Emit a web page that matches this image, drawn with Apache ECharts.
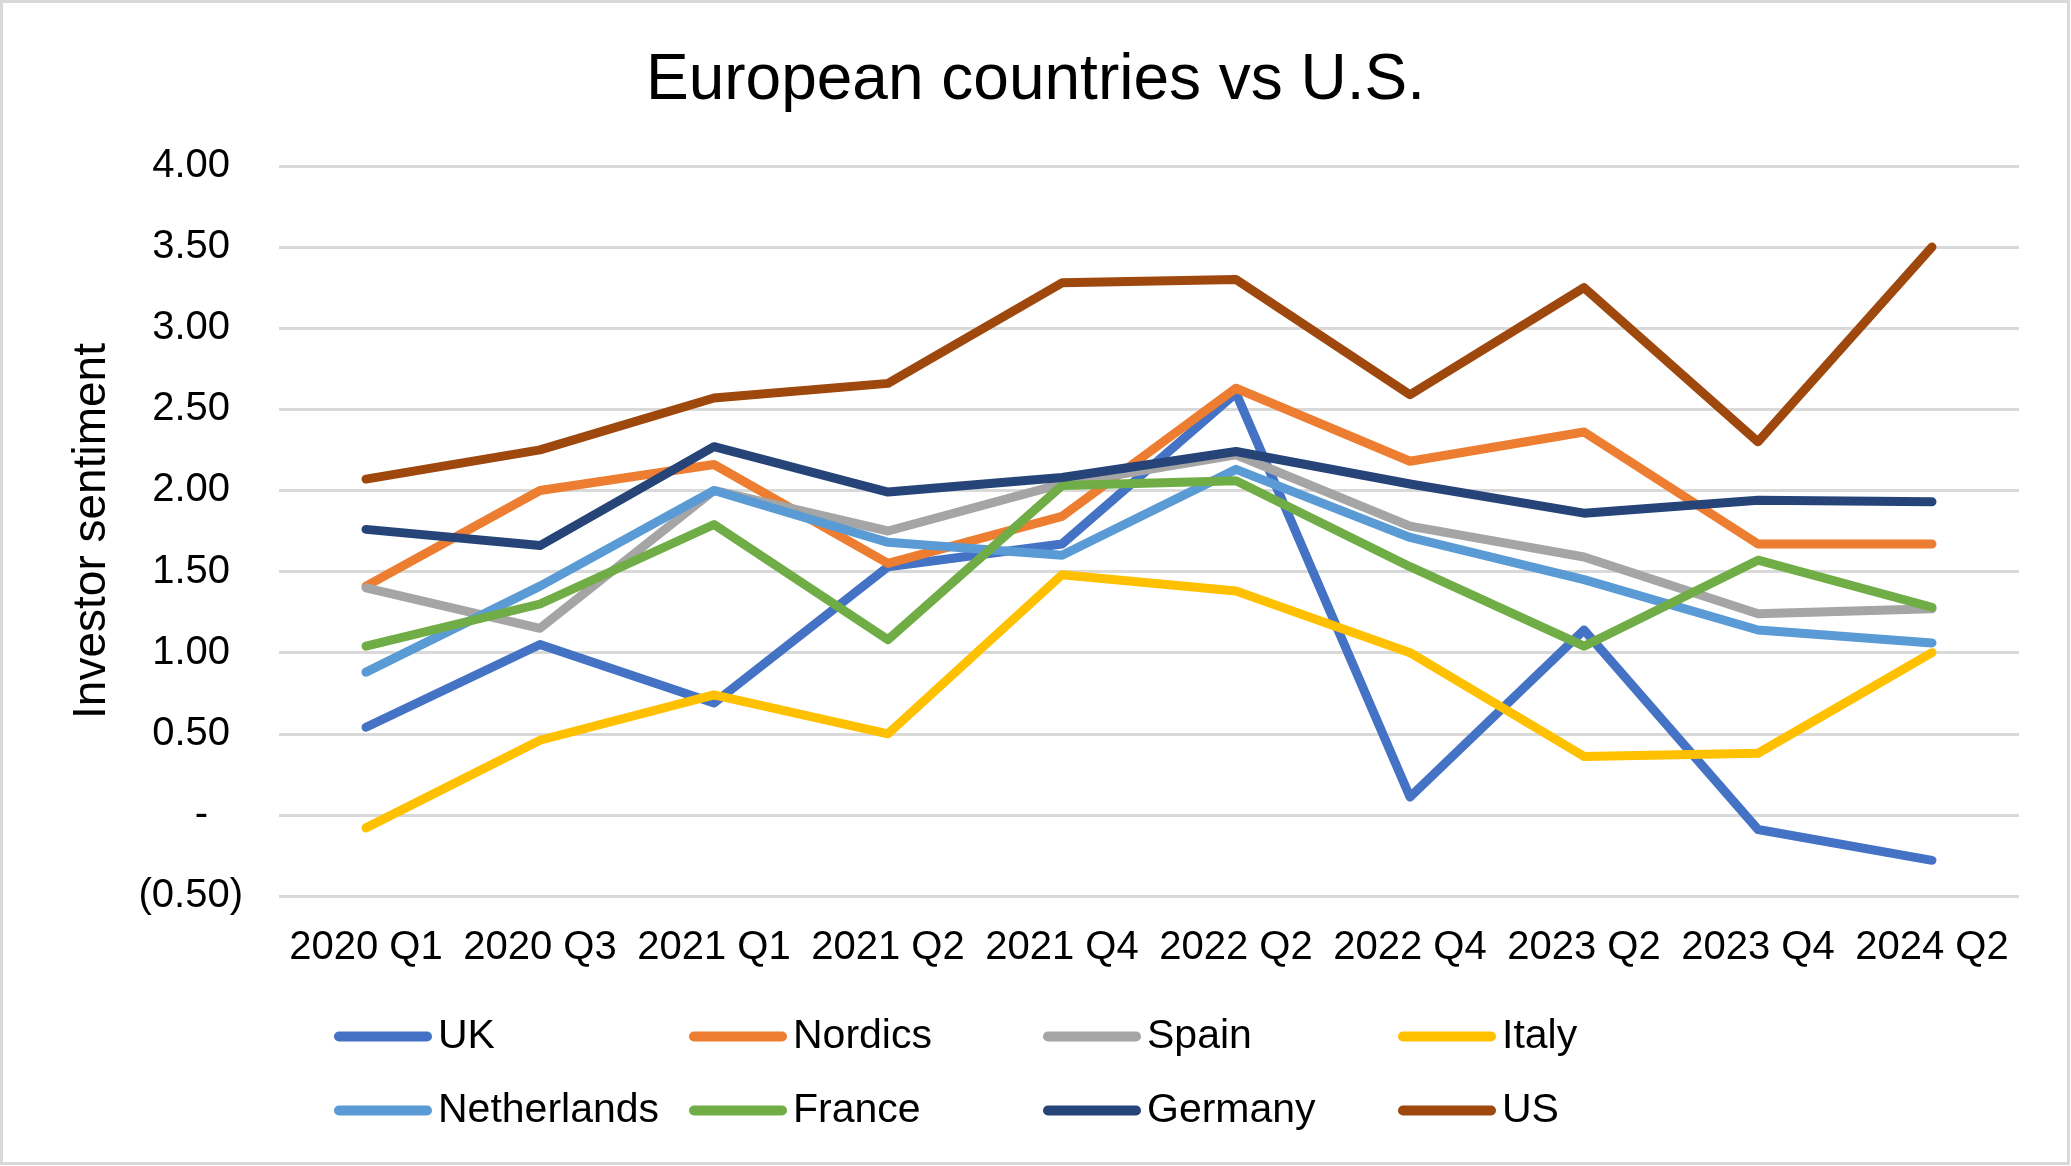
<!DOCTYPE html>
<html>
<head>
<meta charset="utf-8">
<script src="https://cdn.jsdelivr.net/npm/echarts@6/dist/echarts.min.js"></script>
<style>
html,body{margin:0;padding:0;background:#fff;}
#chart{width:2071px;height:1166px;}
</style>
</head>
<body>
<div id="chart"></div>
<script>
const categories = ['2020 Q1','2020 Q3','2021 Q1','2021 Q2','2021 Q4','2022 Q2','2022 Q4','2023 Q2','2023 Q4','2024 Q2'];
const UK          = [0.54, 1.05, 0.69, 1.53, 1.67, 2.60, 0.11, 1.14, -0.09, -0.28];
const Nordics     = [1.41, 2.00, 2.16, 1.55, 1.84, 2.63, 2.18, 2.36, 1.67, 1.67];
const Spain       = [1.40, 1.15, 2.00, 1.75, 2.04, 2.22, 1.78, 1.59, 1.24, 1.27];
const Italy       = [-0.08, 0.46, 0.74, 0.50, 1.48, 1.38, 1.00, 0.36, 0.38, 1.00];
const Netherlands = [0.88, 1.41, 2.00, 1.68, 1.60, 2.13, 1.71, 1.45, 1.14, 1.06];
const France      = [1.04, 1.30, 1.79, 1.08, 2.03, 2.06, 1.53, 1.04, 1.57, 1.28];
const Germany     = [1.76, 1.66, 2.27, 1.99, 2.08, 2.24, 2.04, 1.86, 1.94, 1.93];
const US          = [2.07, 2.25, 2.57, 2.66, 3.28, 3.30, 2.59, 3.25, 2.30, 3.50];
const seriesNames = ['UK','Nordics','Spain','Italy','Netherlands','France','Germany','US'];
const seriesData  = [UK, Nordics, Spain, Italy, Netherlands, France, Germany, US];
const colors      = ['#4472C4','#ED7D31','#A5A5A5','#FFC000','#5B9BD5','#70AD47','#264478','#9E480E'];
const yMin = -0.5, yMax = 4, yStep = 0.5;

const FONT = "'Liberation Sans', Arial, sans-serif";
const chart = echarts.init(document.getElementById('chart'));
const capsule = 'path://M5,0L93,0A5,5,0,0,1,93,10L5,10A5,5,0,0,1,5,0Z';
const legendCols = [334, 689, 1043, 1398];
const legendRows = [1016, 1090];

const legends = seriesNames.map(function (name, i) {
  return {
    data: [name],
    left: legendCols[i % 4],
    top: legendRows[Math.floor(i / 4)],
    orient: 'horizontal',
    icon: capsule,
    itemWidth: 98,
    itemHeight: 10,
    itemGap: 0,
    padding: 0,
    itemStyle: { borderWidth: 0 },
    textStyle: { fontFamily: FONT, fontSize: 41, color: '#000', padding: [0, 0, 0, 1] }
  };
});

chart.setOption({
  backgroundColor: '#fff',
  color: colors,
  animation: false,
  title: {
    text: 'European countries vs U.S.',
    left: 'center',
    top: 44,
    textStyle: { fontFamily: FONT, fontSize: 64, fontWeight: 'normal', color: '#000' }
  },
  graphic: [{
    type: 'rect',
    shape: { x: 1.5, y: 1.5, width: 2067, height: 1162 },
    style: { fill: null, stroke: '#d9d9d9', lineWidth: 3 },
    silent: true
  }],
  legend: legends,
  grid: { left: 279, right: 52, top: 166, bottom: 270, containLabel: false },
  xAxis: {
    type: 'category',
    data: categories,
    boundaryGap: true,
    axisLine: { show: false },
    axisTick: { show: false },
    axisLabel: { fontFamily: FONT, fontSize: 40, color: '#000', margin: 32, interval: 0 }
  },
  yAxis: {
    type: 'value',
    min: yMin,
    max: yMax,
    interval: yStep,
    name: 'Investor sentiment',
    nameLocation: 'middle',
    nameRotate: 90,
    nameGap: 164,
    nameTextStyle: { fontFamily: FONT, fontSize: 46, color: '#000' },
    axisLine: { show: false },
    axisTick: { show: false },
    splitLine: { lineStyle: { color: '#d9d9d9', width: 3 } },
    axisLabel: {
      margin: 36,
      fontFamily: FONT, fontSize: 40, color: '#000',
      formatter: function (v) {
        if (Math.abs(v) < 1e-9) return '{zero|-}';
        if (v > 0) return '{pos|' + v.toFixed(2) + '}';
        return '{neg|(' + Math.abs(v).toFixed(2) + ')}';
      },
      rich: {
        pos:  { fontFamily: FONT, fontSize: 40, color: '#000', padding: [0, 13, 0, 0] },
        zero: { fontFamily: FONT, fontSize: 40, color: '#000', padding: [0, 35, 0, 0] },
        neg:  { fontFamily: FONT, fontSize: 40, color: '#000' }
      }
    }
  },
  series: seriesNames.map(function (name, i) {
    return {
      name: name,
      type: 'line',
      data: seriesData[i],
      symbol: 'none',
      showSymbol: false,
      lineStyle: { width: 9, color: colors[i], cap: 'round', join: 'round' },
      itemStyle: { color: colors[i], borderWidth: 0 },
      emphasis: { disabled: true }
    };
  })
});
</script>
</body>
</html>
